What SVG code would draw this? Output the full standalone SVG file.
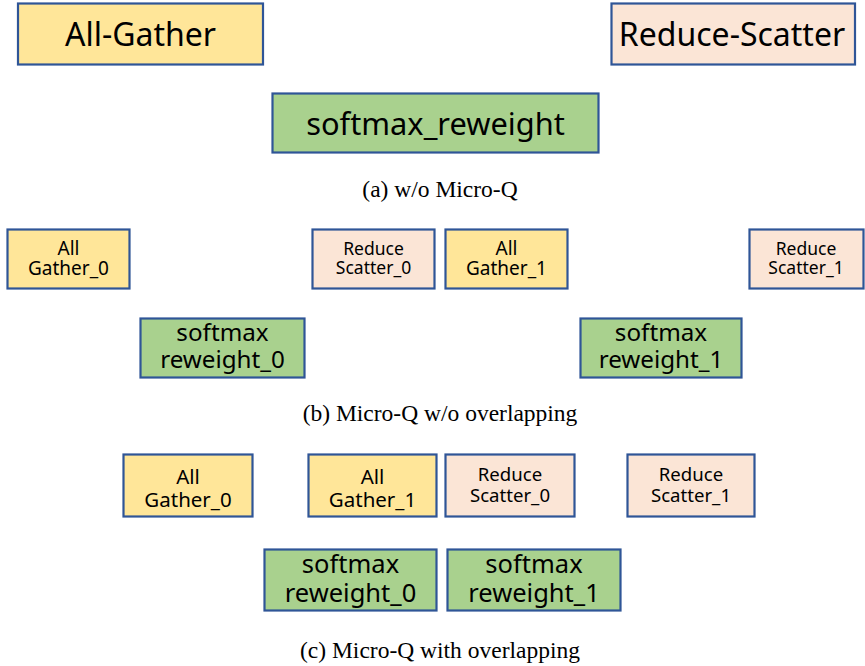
<svg xmlns="http://www.w3.org/2000/svg" width="865" height="666" viewBox="0 0 865 666">
<style>
.box{stroke:#2F5597;stroke-width:2.2}
.ag{fill:#FFE699}
.rs{fill:#FBE5D6}
.sm{fill:#A9D18E}
text{font-family:"Noto Sans","Open Sans",sans-serif;fill:#000;text-anchor:middle}
.cap{font-family:"Liberation Serif","Times New Roman",serif;font-size:23.5px}
</style>
<rect width="865" height="666" fill="#fff"/>
<g id="a-allgather"><rect class="box ag" x="18" y="3.5" width="245" height="61"/><text x="140.5" y="46" font-size="32">All-Gather</text></g>
<g id="a-reducescatter"><rect class="box rs" x="611.5" y="3.5" width="243.5" height="61"/><text x="732" y="46" font-size="32">Reduce-Scatter</text></g>
<g id="a-softmax"><rect class="box sm" x="272.5" y="93.5" width="326" height="59"/><text x="435.5" y="135" font-size="30.8">softmax_reweight</text></g>
<text class="cap" x="440" y="197">(a) w/o Micro-Q</text>

<g id="b-allgather0"><rect class="box ag" x="7.5" y="229.5" width="122" height="59"/><text font-size="19"><tspan x="68.5" y="255">All</tspan><tspan x="68.5" y="275">Gather_0</tspan></text></g>
<g id="b-reducescatter0"><rect class="box rs" x="312.5" y="229.5" width="122" height="59"/><text font-size="17.5"><tspan x="373.5" y="255">Reduce</tspan><tspan x="373.5" y="274">Scatter_0</tspan></text></g>
<g id="b-allgather1"><rect class="box ag" x="445.5" y="229.5" width="122" height="59"/><text font-size="19"><tspan x="506.5" y="255">All</tspan><tspan x="506.5" y="275">Gather_1</tspan></text></g>
<g id="b-reducescatter1"><rect class="box rs" x="749.5" y="229.5" width="114" height="59"/><text font-size="17.5"><tspan x="806" y="255">Reduce</tspan><tspan x="806" y="274">Scatter_1</tspan></text></g>
<g id="b-softmax0"><rect class="box sm" x="140.5" y="318.5" width="164" height="59"/><text font-size="24.2"><tspan x="222.5" y="341">softmax</tspan><tspan x="222.5" y="368">reweight_0</tspan></text></g>
<g id="b-softmax1"><rect class="box sm" x="580.5" y="318.5" width="161" height="59"/><text font-size="24.2"><tspan x="661" y="341">softmax</tspan><tspan x="661" y="368">reweight_1</tspan></text></g>
<text class="cap" x="440" y="421">(b) Micro-Q w/o overlapping</text>

<g id="c-allgather0"><rect class="box ag" x="123.5" y="454.5" width="129" height="62"/><text font-size="20.5"><tspan x="188" y="484">All</tspan><tspan x="188" y="507">Gather_0</tspan></text></g>
<g id="c-allgather1"><rect class="box ag" x="308.5" y="454.5" width="128" height="62"/><text font-size="20.5"><tspan x="372.5" y="484">All</tspan><tspan x="372.5" y="507">Gather_1</tspan></text></g>
<g id="c-reducescatter0"><rect class="box rs" x="445.5" y="454.5" width="129" height="62"/><text font-size="18.6"><tspan x="510" y="481">Reduce</tspan><tspan x="510" y="502">Scatter_0</tspan></text></g>
<g id="c-reducescatter1"><rect class="box rs" x="627.5" y="454.5" width="127" height="62"/><text font-size="18.6"><tspan x="691" y="481">Reduce</tspan><tspan x="691" y="502">Scatter_1</tspan></text></g>
<g id="c-softmax0"><rect class="box sm" x="264.5" y="549.5" width="172" height="61"/><text font-size="25.5"><tspan x="350.5" y="573">softmax</tspan><tspan x="350.5" y="602">reweight_0</tspan></text></g>
<g id="c-softmax1"><rect class="box sm" x="447.5" y="549.5" width="173" height="61"/><text font-size="25.5"><tspan x="534" y="573">softmax</tspan><tspan x="534" y="602">reweight_1</tspan></text></g>
<text class="cap" x="440" y="658">(c) Micro-Q with overlapping</text>
<g id="connectors"/>
</svg>
